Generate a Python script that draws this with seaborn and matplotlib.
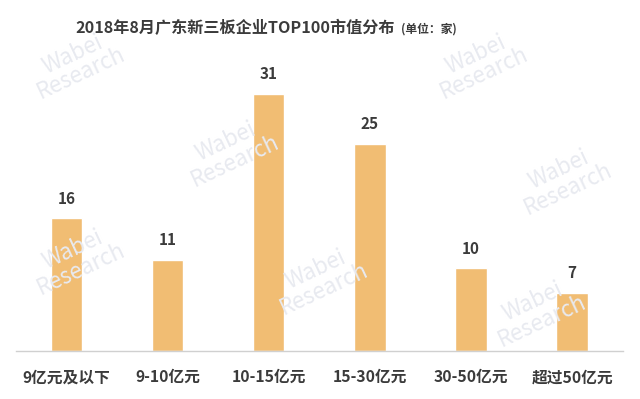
import pandas as pd
import matplotlib
matplotlib.use('Agg')
import matplotlib.pyplot as plt
import seaborn as sns

# chart data
categories = ['9亿元及以下', '9-10亿元', '10-15亿元', '15-30亿元', '30-50亿元', '超过50亿元']
counts = [16, 11, 31, 25, 10, 7]

BAR_COLOR = '#F1BD73'
TEXT_COLOR = '#3b3b3b'

sns.set_theme(style='white')
plt.rcParams['font.family'] = ['Noto Sans CJK SC', 'DejaVu Sans']

df = pd.DataFrame({'category': categories, 'count': counts})

fig = plt.figure(figsize=(6.4, 3.99), dpi=100)
ax = fig.add_axes([0.025, 0.12, 0.948, 0.728])

# faint watermark
for x, y in [(0.12, 0.84), (0.75, 0.84), (0.36, 0.62), (0.88, 0.55),
             (0.12, 0.35), (0.50, 0.30), (0.84, 0.22)]:
    fig.text(x, y, 'Wabei\nResearch', color='#e8eaf0', fontsize=16,
             rotation=25, ha='center', va='center', linespacing=0.9,
             zorder=0)

sns.barplot(data=df, x='category', y='count', color=BAR_COLOR,
            saturation=1, width=0.31, ax=ax, zorder=2)

# value labels above bars
for i, v in enumerate(counts):
    ax.text(i, v + 1.4, str(v), ha='center', va='bottom', fontsize=11,
            fontweight='bold', color=TEXT_COLOR)

ax.set_ylim(0, 35)
ax.set_xlim(-0.5, len(categories) - 0.5)
ax.set_xlabel('')
ax.set_ylabel('')
ax.set_yticks([])
ax.tick_params(axis='x', length=0, pad=13, labelsize=11.3, colors=TEXT_COLOR)
for lbl in ax.get_xticklabels():
    lbl.set_fontweight('bold')
for side in ['top', 'left', 'right']:
    ax.spines[side].set_visible(False)
ax.spines['bottom'].set_color('#d0d0d0')
ax.spines['bottom'].set_linewidth(1)
ax.patch.set_alpha(0)

# title, with the unit placed right after it
title = fig.text(0.117, 0.93, '2018年8月广东新三板企业TOP100市值分布', fontsize=11.6,
                 fontweight='bold', color=TEXT_COLOR, ha='left', va='center')
ax.annotate('(单位：家)', xy=(1, 0.5), xycoords=title, xytext=(5, -1),
            textcoords='offset points', fontsize=8.5, fontweight='bold',
            color=TEXT_COLOR, ha='left', va='center')

fig.savefig('out.png', dpi=100)
